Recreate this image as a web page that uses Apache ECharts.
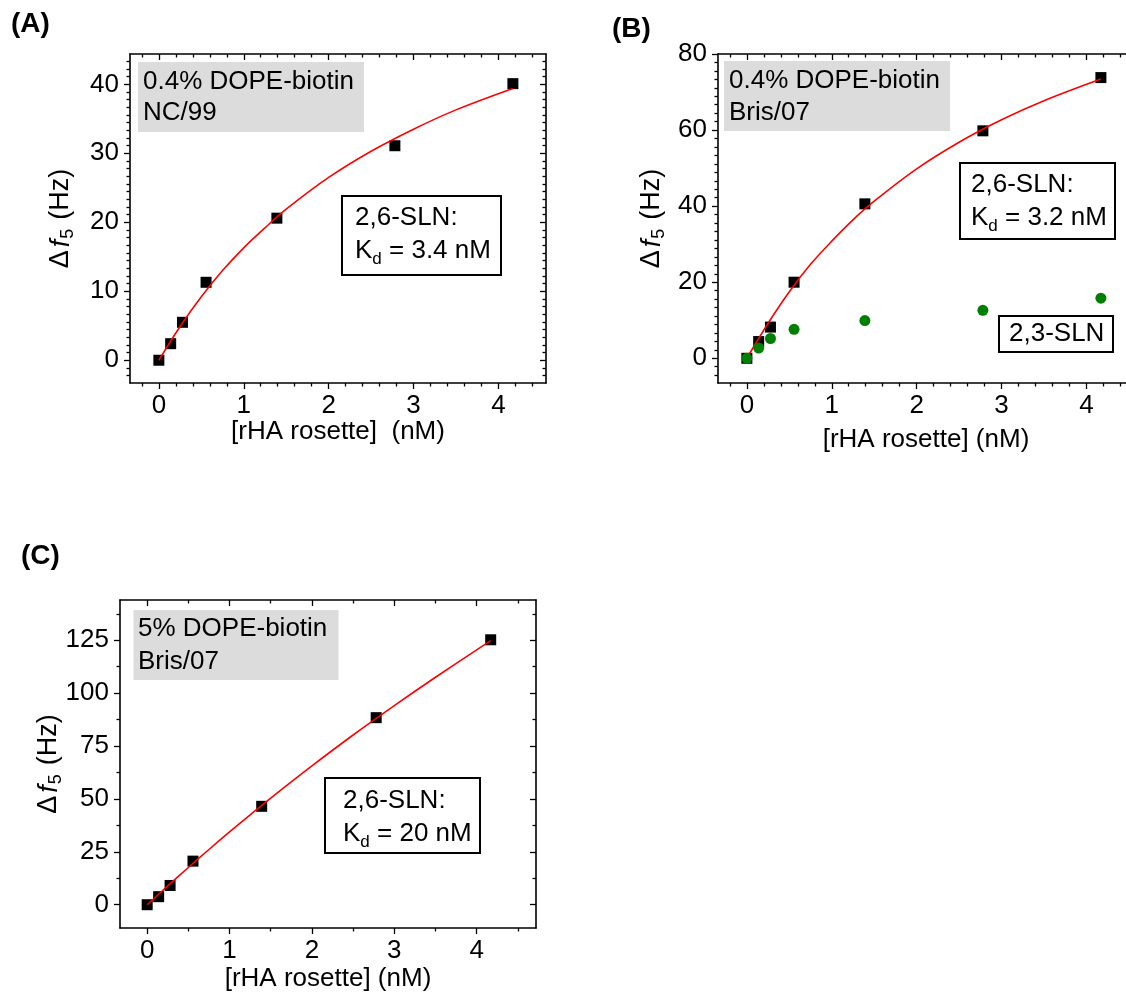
<!DOCTYPE html>
<html>
<head>
<meta charset="utf-8">
<title>rHA rosette binding</title>
<script src="https://cdn.jsdelivr.net/npm/echarts@6/dist/echarts.min.js"></script>
<style>
  html, body { margin: 0; padding: 0; background: #fff; }
  #chart { width: 1126px; height: 996px; }
</style>
</head>
<body>
<div id="chart"></div>
<script>
// rHA rosette concentrations (nM), shared by all three panels
const conc = [0, 0.139, 0.278, 0.556, 1.39, 2.78, 4.17];

// frequency shifts Δf5 (Hz)
const shiftA_26SLN = [0, 2.4, 5.5, 11.3, 20.6, 31.1, 40.1];
const shiftB_26SLN = [0, 4.4, 8.2, 20.0, 40.6, 59.8, 73.8];
const shiftB_23SLN = [0, 2.7, 5.2, 7.6, 9.9, 12.6, 15.8];
const shiftC_26SLN = [0, 3.8, 9.1, 20.6, 46.5, 88.4, 125.2];

// binding fit curves (red)
const fitX = [0, 0.25, 0.5, 0.75, 1, 1.25, 1.5, 2, 2.5, 3, 3.5, 4.17];
const fitA = [0, 4.9, 9.2, 13.0, 16.3, 19.2, 21.9, 26.5, 30.3, 33.5, 36.3, 39.4];
const fitB = [0, 9.2, 17.5, 24.7, 30.8, 36.4, 41.3, 49.8, 56.8, 62.7, 67.7, 73.4];
const fitC = [0, 8.9, 17.6, 26.1, 34.4, 42.5, 50.4, 65.6, 80.2, 94.1, 107.5, 124.8];

// tick labels
const xTicks = [0, 1, 2, 3, 4];
const yTicksA = [0, 10, 20, 30, 40];
const yTicksB = [0, 20, 40, 60, 80];
const yTicksC = [0, 25, 50, 75, 100, 125];

const FONT = '"Liberation Sans", Arial, Helvetica, sans-serif';
const BLACK = '#000000';

function pairs(xs, ys) { return xs.map((x, i) => [x, ys[i]]); }

// minor tick positions: `count` minors between neighbouring majors, kept inside [lo, hi]
function minorValues(majors, count, lo, hi) {
  const step = (majors[1] - majors[0]) / (count + 1);
  const first = majors[0];
  const out = [];
  for (let k = Math.ceil((lo - first) / step - 1e-9); first + k * step <= hi + 1e-9; k++) {
    if (k % (count + 1) === 0) continue;
    out.push(+(first + k * step).toFixed(4));
  }
  return out;
}

const yName = '{d|Δ}{f|f}{s|5}{h|(Hz)}';
const yNameRich = {
  d: { fontFamily: FONT, fontSize: 27, lineHeight: 32, color: BLACK, padding: [0, 3, 0, 0] },
  f: { fontFamily: FONT, fontSize: 27, lineHeight: 32, fontStyle: 'italic', color: BLACK },
  s: { fontFamily: FONT, fontSize: 18, lineHeight: 2, verticalAlign: 'bottom', color: BLACK, padding: [0, 9, 0, 1] },
  h: { fontFamily: FONT, fontSize: 27, lineHeight: 32, color: BLACK }
};

const panels = [
  { grid: { left: 130, top: 54, width: 416, height: 329 },
    xMin: -0.34, xMax: 4.56, yMin: -3.3, yMax: 44.4,
    xMajor: xTicks, xMinorCount: 4, yMajor: yTicksA, yMinorCount: 8,
    xName: '[rHA rosette]  (nM)', xNameGap: 36, yNameGap: 53 },
  { grid: { left: 718, top: 54, width: 416, height: 329 },
    xMin: -0.34, xMax: 4.56, yMin: -6.5, yMax: 80,
    xMajor: xTicks, xMinorCount: 4, yMajor: yTicksB, yMinorCount: 8,
    xName: '[rHA rosette] (nM)', xNameGap: 44, yNameGap: 50 },
  { grid: { left: 120, top: 600, width: 416, height: 328 },
    xMin: -0.33, xMax: 4.72, yMin: -11, yMax: 144,
    xMajor: xTicks, xMinorCount: 1, yMajor: yTicksC, yMinorCount: 1,
    xName: '[rHA rosette] (nM)', xNameGap: 38, yNameGap: 55 }
];

const grids = [], xAxes = [], yAxes = [], series = [];
const axisLineStyle = { color: BLACK, width: 1.6 };
const tickLineStyle = { color: BLACK, width: 1.3 };
const labelStyle = { color: BLACK, fontFamily: FONT, fontSize: 26 };

// builds a frame of four axes (major + minor ticks on each side) and returns main axis indices
function addPanel(p) {
  const gi = grids.length;
  grids.push(Object.assign({ containLabel: false, outerBoundsMode: 'none' }, p.grid));
  const xMinor = minorValues(p.xMajor, p.xMinorCount, p.xMin, p.xMax);
  const yMinor = minorValues(p.yMajor, p.yMinorCount, p.yMin, p.yMax);
  const xi = xAxes.length, yi = yAxes.length;

  const mkX = (position, inside, major, withLine, withLabel) => ({
    type: 'value', gridIndex: gi, position, min: p.xMin, max: p.xMax,
    axisLine: { show: withLine, onZero: false, lineStyle: axisLineStyle },
    axisTick: { show: true, inside, length: major ? 6 : 3.5, lineStyle: tickLineStyle,
                customValues: major ? p.xMajor : xMinor },
    axisLabel: withLabel ? Object.assign({ show: true, margin: 10, customValues: p.xMajor }, labelStyle)
                         : { show: false },
    splitLine: { show: false },
    name: withLabel ? p.xName : '',
    nameLocation: 'middle', nameGap: p.xNameGap, nameMoveOverlap: false,
    nameTextStyle: { color: BLACK, fontFamily: FONT, fontSize: 26 }
  });
  const mkY = (position, inside, major, withLine, withLabel) => ({
    type: 'value', gridIndex: gi, position, min: p.yMin, max: p.yMax,
    axisLine: { show: withLine, onZero: false, lineStyle: axisLineStyle },
    axisTick: { show: true, inside, length: major ? 6 : 3.5, lineStyle: tickLineStyle,
                customValues: major ? p.yMajor : yMinor },
    axisLabel: withLabel ? Object.assign({ show: true, margin: 11, customValues: p.yMajor }, labelStyle)
                         : { show: false },
    splitLine: { show: false },
    name: withLabel ? yName : '',
    nameLocation: 'middle', nameRotate: 90, nameGap: p.yNameGap, nameMoveOverlap: false,
    nameTextStyle: { color: BLACK, fontFamily: FONT, fontSize: 27, rich: yNameRich }
  });

  xAxes.push(mkX('bottom', false, true, true, true));
  xAxes.push(mkX('bottom', false, false, false, false));
  xAxes.push(mkX('top', true, true, true, false));
  xAxes.push(mkX('top', true, false, false, false));
  yAxes.push(mkY('left', false, true, true, true));
  yAxes.push(mkY('left', false, false, false, false));
  yAxes.push(mkY('right', true, true, true, false));
  yAxes.push(mkY('right', true, false, false, false));
  return { xi, yi };
}

function squares(ax, ys) {
  return { type: 'scatter', xAxisIndex: ax.xi, yAxisIndex: ax.yi, data: pairs(conc, ys),
           symbol: 'rect', symbolSize: 11, itemStyle: { color: BLACK, opacity: 1 }, z: 2, silent: true };
}
function fitLine(ax, ys) {
  return { type: 'line', xAxisIndex: ax.xi, yAxisIndex: ax.yi, data: pairs(fitX, ys),
           smooth: 0.35, showSymbol: false, symbol: 'none',
           lineStyle: { color: '#ff0000', width: 1.6 }, z: 3, silent: true };
}

const axA = addPanel(panels[0]);
const axB = addPanel(panels[1]);
const axC = addPanel(panels[2]);

series.push(squares(axA, shiftA_26SLN), fitLine(axA, fitA));
series.push(squares(axB, shiftB_26SLN), fitLine(axB, fitB));
series.push({ type: 'scatter', xAxisIndex: axB.xi, yAxisIndex: axB.yi, data: pairs(conc, shiftB_23SLN),
              symbol: 'circle', symbolSize: 11, itemStyle: { color: '#008000', opacity: 1 }, z: 4, silent: true });
series.push(squares(axC, shiftC_26SLN), fitLine(axC, fitC));

// annotation boxes and panel letters
const boxText = { fontFamily: FONT, fontSize: 26, fill: BLACK };
const kdRich = {
  t: { fontFamily: FONT, fontSize: 26, lineHeight: 33, color: BLACK },
  s: { fontFamily: FONT, fontSize: 17, lineHeight: 9, verticalAlign: 'bottom', color: BLACK }
};
function grayBox(x, y, w, h, tx, ty, lh, text) {
  return [
    { type: 'rect', shape: { x, y, width: w, height: h }, style: { fill: '#dcdcdc' }, z: 10, silent: true },
    { type: 'text', x: tx, y: ty, z: 11, silent: true,
      style: Object.assign({ text, lineHeight: lh, verticalAlign: 'top', align: 'left' }, boxText) }
  ];
}
function frameBox(x, y, w, h, tx, ty, text, rich) {
  return [
    { type: 'rect', shape: { x, y, width: w, height: h },
      style: { fill: '#ffffff', stroke: BLACK, lineWidth: 2 }, z: 10, silent: true },
    { type: 'text', x: tx, y: ty, z: 11, silent: true,
      style: Object.assign({ text, rich, verticalAlign: 'top', align: 'left' }, boxText) }
  ];
}
function letter(x, y, text) {
  return { type: 'text', x, y, z: 11, silent: true,
    style: { text, fontFamily: FONT, fontSize: 28, fontWeight: 'bold', fill: BLACK,
             verticalAlign: 'middle', align: 'left' } };
}

const graphic = [].concat(
  grayBox(138, 62, 226, 70, 143, 66.5, 31, '0.4% DOPE-biotin\nNC/99'),
  frameBox(342, 196, 159, 79, 355, 201.5, '{t|2,6-SLN:}\n{t|K}{s|d}{t| = 3.4 nM}', kdRich),
  grayBox(724, 61, 226, 70, 729, 65, 32, '0.4% DOPE-biotin\nBris/07'),
  frameBox(960, 163, 155, 76, 971, 168.5, '{t|2,6-SLN:}\n{t|K}{s|d}{t| = 3.2 nM}', kdRich),
  frameBox(999, 316, 114, 36, 1009, 317.5, '{t|2,3-SLN}', kdRich),
  grayBox(133.5, 610, 205, 70, 138, 612.5, 33, '5% DOPE-biotin\nBris/07'),
  frameBox(325, 778, 155, 75, 343, 784.5, '{t|2,6-SLN:}\n{t|K}{s|d}{t| = 20 nM}', kdRich),
  [letter(11, 24, '(A)'), letter(612, 29, '(B)'), letter(21, 556.5, '(C)')]
);

const chart = echarts.init(document.getElementById('chart'), null, { renderer: 'canvas' });
chart.setOption({
  animation: false,
  backgroundColor: '#ffffff',
  grid: grids,
  xAxis: xAxes,
  yAxis: yAxes,
  series,
  graphic
});
</script>
</body>
</html>
